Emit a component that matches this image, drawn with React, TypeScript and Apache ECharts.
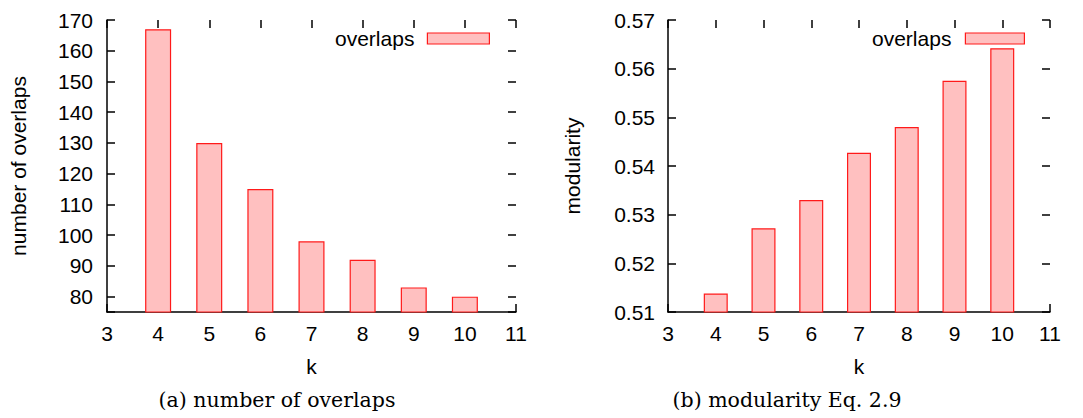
import React, { useEffect, useRef } from "react";
import * as echarts from "echarts";

const kValues = [4, 5, 6, 7, 8, 9, 10];
const overlapCounts = [167, 130, 115, 98, 92, 83, 80];
const modularityValues = [0.5138, 0.5272, 0.533, 0.5427, 0.548, 0.5575, 0.5642];
const seriesName = "overlaps";
const captionA = "(a) number of overlaps";
const captionB = "(b) modularity Eq. 2.9";

const FONT = "'Liberation Sans', Arial, sans-serif";
const FS = 21;
const FILL = "#ffc0c0";
const EDGE = "#ff1a1a";

export default function App() {
  const ref = useRef<HTMLDivElement>(null);
  useEffect(() => {
    if (!ref.current) return;
    const chart = echarts.init(ref.current, null, { renderer: "svg" });
    const tickStyle = { inside: true, length: 8, lineStyle: { color: "#000", width: 1.5 } };
    const labelStyle = { color: "#000", fontSize: FS, fontFamily: FONT };
    const nameStyle = { color: "#000", fontSize: FS, fontFamily: FONT };
    const xBottom = (gi: number) => ({
      type: "value", gridIndex: gi, min: 3, max: 11, interval: 1, position: "bottom",
      axisLine: { show: true, lineStyle: { color: "#000", width: 1.5 } },
      axisTick: tickStyle, splitLine: { show: false },
      axisLabel: { ...labelStyle, margin: 11 },
      name: "k", nameLocation: "middle", nameGap: 44,
      nameTextStyle: nameStyle,
    });
    const xTop = (gi: number) => ({
      type: "value", gridIndex: gi, min: 3, max: 11, interval: 1, position: "top",
      axisLine: { show: false }, axisTick: tickStyle, axisLabel: { show: false }, splitLine: { show: false },
    });
    const bar = (gi: number, values: number[], w: number) => ({
      type: "bar", name: seriesName, xAxisIndex: gi * 2, yAxisIndex: gi * 2,
      data: kValues.map((k, i) => [k, values[i]]),
      barWidth: w, clip: true,
      itemStyle: { color: FILL, borderColor: EDGE, borderWidth: 1.2 },
    });
    chart.setOption({
      animation: false,
      textStyle: { fontFamily: FONT },
      grid: [
        { left: 107, right: 567, top: 20, bottom: 106 },
        { left: 668, right: 33, top: 20, bottom: 106 },
      ],
      xAxis: [xBottom(0), xTop(0), xBottom(1), xTop(1)],
      yAxis: [
        {
          type: "value", gridIndex: 0, min: 75, max: 170, splitNumber: 10, position: "left",
          axisLine: { show: true, lineStyle: { color: "#000", width: 1.5 } },
          axisTick: tickStyle, splitLine: { show: false },
          axisLabel: { ...labelStyle, margin: 14, formatter: (v: number) => (v % 10 === 0 ? String(v) : "") },
          name: "number of overlaps", nameLocation: "middle", nameGap: 78, nameRotate: 90,
          nameTextStyle: nameStyle,
        },
        {
          type: "value", gridIndex: 0, min: 75, max: 170, splitNumber: 10, position: "right",
          axisLine: { show: false }, axisTick: tickStyle, axisLabel: { show: false }, splitLine: { show: false },
        },
        {
          type: "value", gridIndex: 1, min: 0.51, max: 0.57, interval: 0.01, position: "left",
          axisLine: { show: true, lineStyle: { color: "#000", width: 1.5 } },
          axisTick: tickStyle, splitLine: { show: false },
          axisLabel: { ...labelStyle, margin: 13, formatter: (v: number) => v.toFixed(2) },
          name: "modularity", nameLocation: "middle", nameGap: 85, nameRotate: 90,
          nameTextStyle: nameStyle,
        },
        {
          type: "value", gridIndex: 1, min: 0.51, max: 0.57, interval: 0.01, position: "right",
          axisLine: { show: false }, axisTick: tickStyle, axisLabel: { show: false }, splitLine: { show: false },
        },
      ],
      legend: [
        {
          right: 593, top: 28, padding: 0, align: "right", icon: "rect", itemWidth: 62, itemHeight: 11,
          data: [seriesName], selectedMode: false,
          itemStyle: { color: FILL, borderColor: EDGE, borderWidth: 1.2 },
          textStyle: { color: "#000", fontSize: FS, fontFamily: FONT, padding: [0, 8, 0, 0] },
        },
        {
          right: 58, top: 28, padding: 0, align: "right", icon: "rect", itemWidth: 59, itemHeight: 11,
          data: [seriesName], selectedMode: false,
          itemStyle: { color: FILL, borderColor: EDGE, borderWidth: 1.2 },
          textStyle: { color: "#000", fontSize: FS, fontFamily: FONT, padding: [0, 9, 0, 0] },
        },
      ],
      graphic: [
        { type: "text", x: 277, y: 400, style: { text: captionA, align: "center", verticalAlign: "middle", fontSize: 20.5, fontFamily: "'DejaVu Serif', serif", fill: "#000" } },
        { type: "text", x: 787, y: 400, style: { text: captionB, align: "center", verticalAlign: "middle", fontSize: 20.5, fontFamily: "'DejaVu Serif', serif", fill: "#000" } },
      ],
      series: [bar(0, overlapCounts, 26), { ...bar(1, modularityValues, 24), xAxisIndex: 2, yAxisIndex: 2 }],
    });
    return () => chart.dispose();
  }, []);
  return <div ref={ref} style={{ position: "fixed", left: 0, top: 0, width: 1083, height: 418, background: "#fff" }} />;
}
